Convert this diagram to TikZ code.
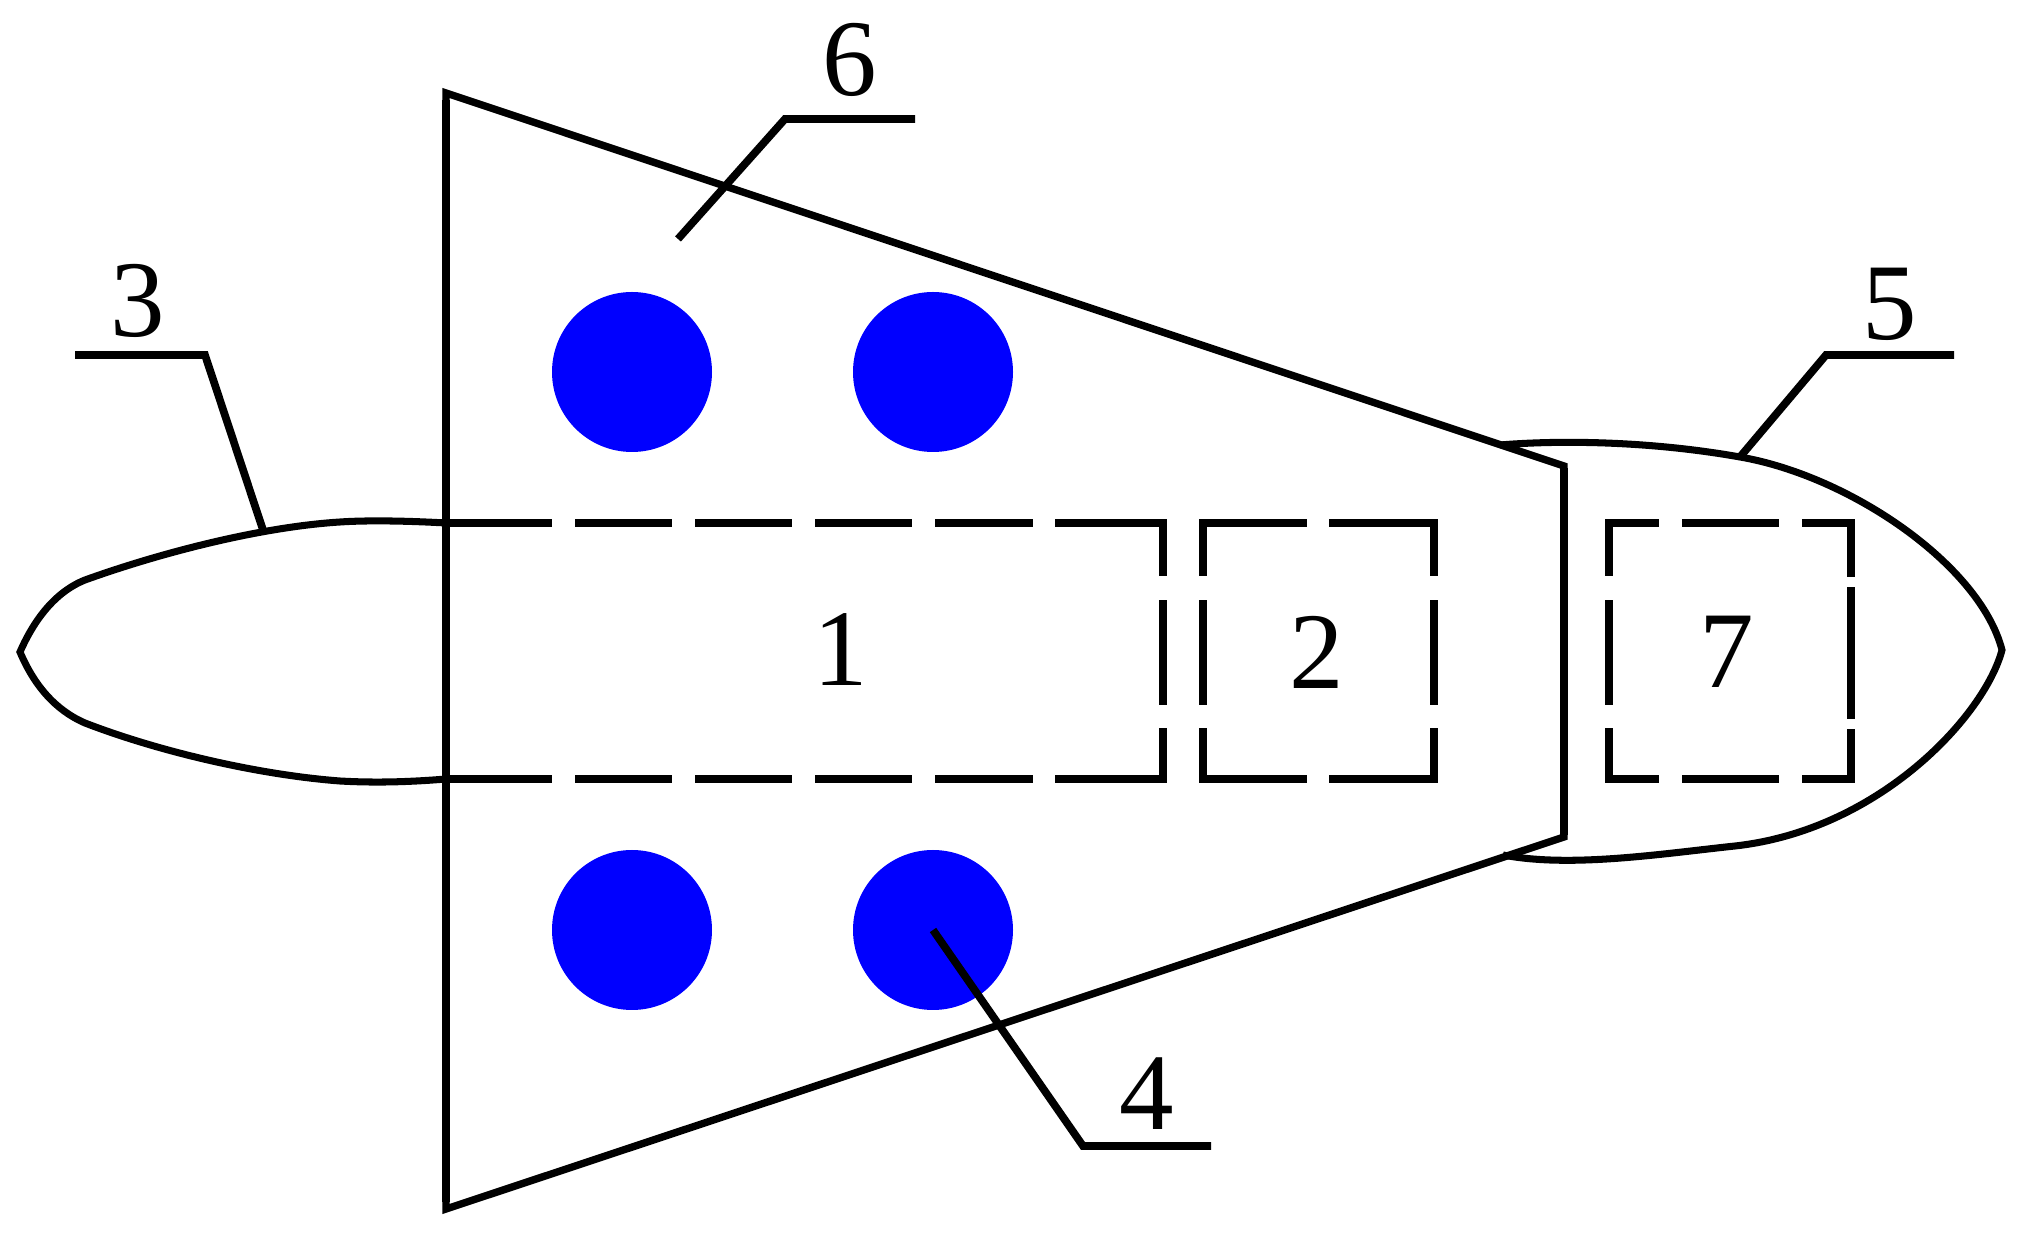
\documentclass[tikz,border=0pt]{standalone}
\usepackage{fontspec}
\setmainfont{Liberation Serif}
\definecolor{portblue}{RGB}{0,0,255}
\tikzset{
  hull/.style={line width=2.1pt, line join=miter},
  hullside/.style={line width=2.5pt},
  skin/.style={line width=2.0pt},
  leader/.style={line width=2.2pt},
  bay/.style={line width=2.1pt, line cap=rect},
  vdash/.style={bay, dash pattern=on 0.495cm off 0.31cm on 0.98cm off 0.30cm on 0.50cm},
  hdash/.style={bay, dash pattern=on 1.00cm off 0.30cm on 1.10cm},
  longdash/.style={bay, dash pattern=on 1.025cm off 0.30cm on 0.90cm off 0.30cm on 0.90cm off 0.30cm on 0.90cm off 0.30cm on 0.90cm off 0.30cm on 1.10cm},
  shortdash/.style={bay, dash pattern=on 0.465cm off 0.30cm on 0.90cm off 0.30cm on 0.50cm},
  port/.style={fill=portblue},
  num/.style={font=\fontsize{31}{31}\selectfont, inner sep=0pt}
}
\begin{document}
\begin{tikzpicture}[x=0.01cm, y=-0.01cm]
  \useasboundingbox (0,0) rectangle (2026,1240);
  % ports
  \foreach \px/\py in {632/372, 933/372, 632/930, 933/930}
    \fill[port] (\px,\py) circle (80);
  % tail and nose
  \draw[skin] (446,523) .. controls (410,521) and (370,520) .. (340,522)
    .. controls (260,527) and (160,553) .. (85,580)
    .. controls (55,592) and (34,620) .. (20,652)
    .. controls (34,685) and (55,710) .. (85,723)
    .. controls (160,752) and (260,775) .. (340,781)
    .. controls (375,783) and (410,782) .. (446,779);
  \draw[skin] (1500,445) .. controls (1560,440) and (1650,441) .. (1740,457)
    .. controls (1850,476) and (1980,565) .. (2002,650)
    .. controls (1985,715) and (1880,830) .. (1735,846)
    .. controls (1660,854) and (1570,868) .. (1503,855);
  % wing
  \draw[hull] (446,93) -- (1564,466) -- (1564,837) -- (446,1209) -- cycle;
  \draw[hullside] (446,100) -- (446,1202);
  \draw[hullside] (1564,468) -- (1564,835);
  % bay 1
  \draw[longdash] (446,523) -- (1163,523);
  \draw[longdash] (446,779) -- (1163,779);
  \draw[vdash] (1163,523) -- (1163,779);
  % bay 2
  \draw[hdash] (1203,523) -- (1434,523);
  \draw[hdash] (1203,779) -- (1434,779);
  \draw[vdash] (1203,523) -- (1203,779);
  \draw[vdash] (1434,523) -- (1434,779);
  % bay 7
  \draw[shortdash] (1609,523) -- (1851,523);
  \draw[shortdash] (1609,779) -- (1851,779);
  \draw[vdash] (1609,523) -- (1609,779);
  \draw[bay, line width=2.4pt, dash pattern=on 0.485cm off 0.19cm on 1.23cm off 0.19cm on 0.50cm] (1851,524) -- (1851,778);
  % leaders
  \draw[leader] (75,355) -- (205,355) -- (263,530);
  \draw[leader] (678,239) -- (785,119) -- (915,119);
  \draw[leader] (1740,457) -- (1826,355) -- (1954,355);
  \draw[leader] (933,930) -- (1083,1146) -- (1211,1146);
  % labels
  \node[num] (lab1) at (841,650) {1};
  \node[num] (lab2) at (1317,652) {2};
  \node[num] (lab3) at (138,301) {3};
  \node[num] (lab4) at (1147,1094) {4};
  \node[num] (lab5) at (1890,304) {5};
  \node[num] (lab6) at (850,60) {6};
  \node[num] (lab7) at (1727,652) {7};
\end{tikzpicture}
\end{document}
